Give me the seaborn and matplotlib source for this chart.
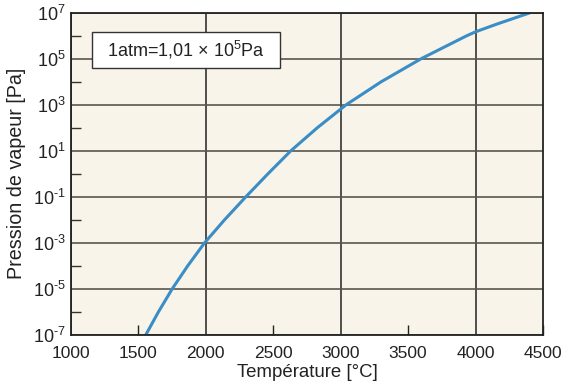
import numpy as np
import pandas as pd
import seaborn as sns
import matplotlib.pyplot as plt
from matplotlib.patches import Rectangle
from matplotlib.ticker import FixedLocator, FixedFormatter

# valeurs (température en °C, log10 de la pression en Pa)
temperature = [1554, 1648, 1750, 1865, 1990, 2138, 2296, 2460, 2630, 2826, 3040,
               3300, 3596, 3935, 4000, 4155, 4405]
log_pression = [-7, -6, -5, -4, -3, -2, -1, 0, 1, 2, 3, 4, 5, 6, 6.17, 6.5, 7]
x_ticks = [1000, 1500, 2000, 2500, 3000, 3500, 4000, 4500]
y_exposants = [-7, -5, -3, -1, 1, 3, 5, 7]
note = "1atm=1,01 × 10$^5$Pa"

sns.set_theme(style="ticks")
plt.rcParams['font.family'] = ['Liberation Sans Narrow', 'Liberation Sans', 'DejaVu Sans']
plt.rcParams['mathtext.fontset'] = 'custom'
plt.rcParams['mathtext.rm'] = 'Liberation Sans'
plt.rcParams['mathtext.it'] = 'Liberation Sans'
plt.rcParams['mathtext.bf'] = 'Liberation Sans'

data = pd.DataFrame({"T": temperature, "P": [10.0 ** v for v in log_pression]})

fig = plt.figure(figsize=(5.68, 3.92), dpi=100)
ax = fig.add_axes([0.125, 0.1454, 0.831, 0.8222])
ax.set_facecolor("#f8f4ea")

sns.lineplot(data=data, x="T", y="P", color="#3a8dc5", linewidth=2.2, ax=ax, zorder=5)
ax.set_yscale("log")
ax.set_xlim(1000, 4500)
ax.set_ylim(1e-7, 1e7)

# x : grille aux milliers, petites graduations internes aux demi-milliers
maj_x = [t for t in x_ticks if t % 1000 == 0]
min_x = [t for t in x_ticks if t % 1000 != 0]
ax.xaxis.set_major_locator(FixedLocator(maj_x))
ax.xaxis.set_major_formatter(FixedFormatter([str(t) for t in maj_x]))
ax.xaxis.set_minor_locator(FixedLocator(min_x))
ax.xaxis.set_minor_formatter(FixedFormatter([str(t) for t in min_x]))

# y : décades impaires étiquetées, décades paires en graduations internes
maj_y = [10.0 ** e for e in y_exposants]
min_y = [10.0 ** (e + 1) for e in y_exposants[:-1]]
ax.yaxis.set_major_locator(FixedLocator(maj_y))
ax.yaxis.set_major_formatter(FixedFormatter(["10$^{\\text{%d}}$" % e for e in y_exposants]))
ax.yaxis.set_minor_locator(FixedLocator(min_y))
ax.yaxis.set_minor_formatter(FixedFormatter([""] * len(min_y)))

ax.tick_params(axis="y", which="major", length=0, labelsize=13, pad=4, colors="#222222")
ax.tick_params(axis="x", which="both", labelsize=12.5, pad=8, colors="#222222")
ax.tick_params(axis="x", which="major", length=0)
ax.tick_params(axis="x", which="minor", direction="in", length=7, width=1)
ax.tick_params(axis="y", which="minor", direction="in", length=7, width=1, color="#333333")

ax.grid(True, which="major", axis="x", color="#222222", linewidth=1.1)
ax.grid(True, which="major", axis="y", color="#595550", linewidth=1.2)
for s in ax.spines.values():
    s.set_color("#222222")
    s.set_linewidth(1.3)
    s.set_zorder(6)

ax.set_xlabel("Température [°C]", fontsize=13.4, family=['Liberation Sans', 'DejaVu Sans'],
              color="#222222", labelpad=2)
ax.set_ylabel("Pression de vapeur [Pa]", fontsize=14.2, family=['Liberation Sans', 'DejaVu Sans'],
              color="#222222", labelpad=5)

ax.add_patch(Rectangle((0.0445, 0.828), 0.3985, 0.112, transform=ax.transAxes,
                       facecolor="white", edgecolor="#333333", linewidth=1.0, zorder=7))
ax.text(0.2435, 0.884, note, transform=ax.transAxes, ha="center", va="center",
        fontsize=13, family=['Liberation Sans', 'DejaVu Sans'], color="#222222", zorder=8)

fig.savefig("out.png", dpi=100)
